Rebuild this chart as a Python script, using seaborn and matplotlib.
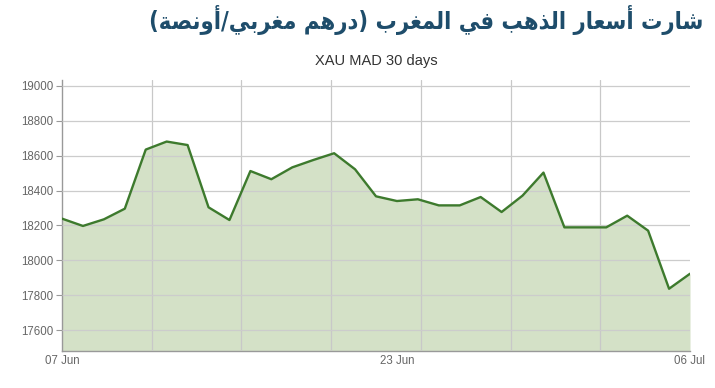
import numpy as np
import pandas as pd
import matplotlib
matplotlib.use("Agg")
import matplotlib.pyplot as plt
import seaborn as sns

# ---- data ----
title_text = "شارت أسعار الذهب في المغرب (درهم مغربي/أونصة)"
subtitle_text = "XAU MAD 30 days"
prices = [18239, 18197, 18235, 18296, 18635, 18681, 18661, 18304, 18231, 18512,
          18465, 18533, 18575, 18614, 18522, 18367, 18340, 18350, 18315, 18315,
          18363, 18277, 18371, 18503, 18189, 18189, 18189, 18256, 18170, 17837,
          17923]
x_tick_pos = [0, 16, 30]
x_tick_labels = ["07 Jun", "23 Jun", "06 Jul"]
y_ticks = [17600, 17800, 18000, 18200, 18400, 18600, 18800, 19000]

# ---- minimal Arabic shaping (presentation forms) ----
FORMS = {
    "\u0627": ("\uFE8D", "\uFE8E"), "\u0623": ("\uFE83", "\uFE84"),
    "\u0628": ("\uFE8F", "\uFE90", "\uFE91", "\uFE92"),
    "\u0629": ("\uFE93", "\uFE94"),
    "\u062A": ("\uFE95", "\uFE96", "\uFE97", "\uFE98"),
    "\u062F": ("\uFEA9", "\uFEAA"), "\u0630": ("\uFEAB", "\uFEAC"),
    "\u0631": ("\uFEAD", "\uFEAE"), "\u0632": ("\uFEAF", "\uFEB0"),
    "\u0633": ("\uFEB1", "\uFEB2", "\uFEB3", "\uFEB4"),
    "\u0634": ("\uFEB5", "\uFEB6", "\uFEB7", "\uFEB8"),
    "\u0635": ("\uFEB9", "\uFEBA", "\uFEBB", "\uFEBC"),
    "\u0639": ("\uFEC9", "\uFECA", "\uFECB", "\uFECC"),
    "\u063A": ("\uFECD", "\uFECE", "\uFECF", "\uFED0"),
    "\u0641": ("\uFED1", "\uFED2", "\uFED3", "\uFED4"),
    "\u0644": ("\uFEDD", "\uFEDE", "\uFEDF", "\uFEE0"),
    "\u0645": ("\uFEE1", "\uFEE2", "\uFEE3", "\uFEE4"),
    "\u0646": ("\uFEE5", "\uFEE6", "\uFEE7", "\uFEE8"),
    "\u0647": ("\uFEE9", "\uFEEA", "\uFEEB", "\uFEEC"),
    "\u0648": ("\uFEED", "\uFEEE"),
    "\u064A": ("\uFEF1", "\uFEF2", "\uFEF3", "\uFEF4"),
}


def shape_rtl(s):
    out = []
    n = len(s)
    for i, c in enumerate(s):
        if c not in FORMS:
            out.append(c)
            continue
        f = FORMS[c]
        prev = s[i - 1] if i > 0 else ""
        nxt = s[i + 1] if i < n - 1 else ""
        jp = prev in FORMS and len(FORMS[prev]) == 4
        jn = len(f) == 4 and nxt in FORMS
        if jp and jn:
            out.append(f[3])
        elif jp:
            out.append(f[1])
        elif jn:
            out.append(f[2])
        else:
            out.append(f[0])
    vis = "".join(reversed(out))
    vis = vis.translate(str.maketrans({"(": ")", ")": "("}))
    return vis


df = pd.DataFrame({"idx": np.arange(len(prices)), "price": prices})

sns.set_style("white")
plt.rcParams["font.family"] = ["Liberation Sans", "DejaVu Sans"]

fig = plt.figure(figsize=(7.15, 3.88), dpi=100)
ax = fig.add_axes([62 / 715, 1 - 351 / 388, 628 / 715, (351 - 80) / 388])

line_c = "#3d7a2d"
fill_c = "#d4e1c7"
ymin, ymax = 17480, 19034

ax.fill_between(df["idx"], df["price"], ymin, color=fill_c, zorder=1, lw=0)
sns.lineplot(data=df, x="idx", y="price", ax=ax, color=line_c, lw=1.7, zorder=3)

ax.set_xlim(0, len(prices) - 1)
ax.set_ylim(ymin, ymax)
ax.set_yticks(y_ticks)
ax.set_yticklabels([str(v) for v in y_ticks])
ax.set_xticks(x_tick_pos)
ax.set_xticklabels(x_tick_labels)
ax.set_xticks([i * (len(prices) - 1) / 7 for i in range(1, 8)], minor=True)
ax.set_axisbelow(False)
ax.grid(True, axis="y", which="major", color="#cccccc", lw=0.9, zorder=2)
ax.grid(True, axis="x", which="minor", color="#c8c8c8", lw=0.9, zorder=2)
ax.grid(False, axis="x", which="major")

ax.tick_params(axis="y", which="major", length=4, width=0.8, color="#999999",
               labelsize=8.3, labelcolor="#666666", pad=2, left=True)
ax.tick_params(axis="x", which="both", length=0, labelsize=8.3,
               labelcolor="#666666", pad=3)
ax.set_xlabel("")
ax.set_ylabel("")
for side in ["top", "right"]:
    ax.spines[side].set_visible(False)
for side in ["left", "bottom"]:
    ax.spines[side].set_color("#999999")
    ax.spines[side].set_linewidth(1.0)

fig.text(703 / 715, 1 - 20 / 388, shape_rtl(title_text), ha="right", va="center",
         fontsize=17, fontweight="bold", fontstretch="condensed",
         color="#1e4d6b", family=["DejaVu Sans"])
fig.text(376 / 715, 1 - 61 / 388, subtitle_text, ha="center", va="center",
         fontsize=10.5, color="#333333")

fig.savefig("out.png", dpi=100)
